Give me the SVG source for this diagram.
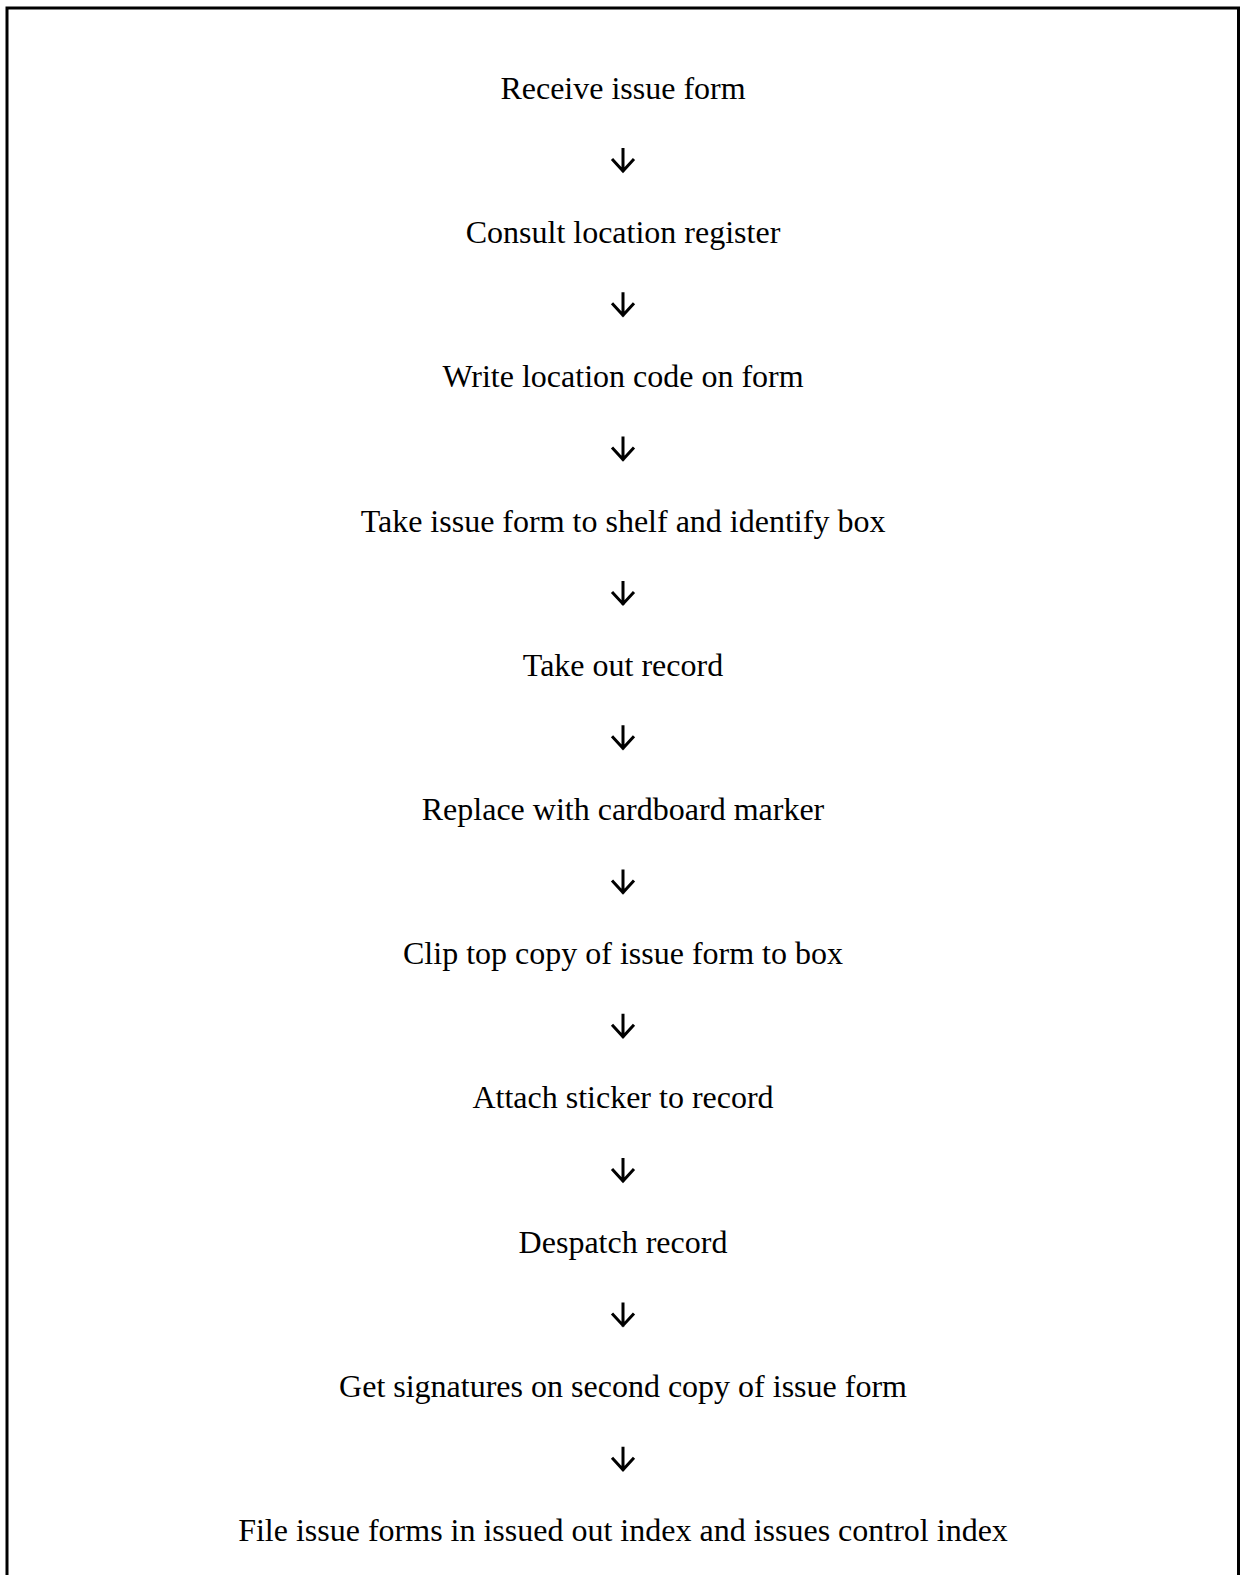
<svg xmlns="http://www.w3.org/2000/svg" width="1242" height="1575" viewBox="0 0 1242 1575">
<defs>
<style>
.t{font-family:"Liberation Serif","Times New Roman",serif;font-size:32px;fill:#000;text-anchor:middle}
.a{fill:none;stroke:#000;stroke-width:3;stroke-linecap:butt;stroke-linejoin:miter}
</style>
<path id="arr" class="a" d="M0,-13 V11 M-11,-2 L0,10 L11,-2"/>
</defs>
<rect width="1242" height="1575" fill="#fff"/>
<rect x="7" y="8" width="1231.5" height="1600" fill="none" stroke="#000" stroke-width="3"/>
<g id="n1"><text class="t" x="623" y="99">Receive issue form</text></g>
<g id="n2"><text class="t" x="623" y="243">Consult location register</text></g>
<g id="n3"><text class="t" x="623" y="387">Write location code on form</text></g>
<g id="n4"><text class="t" x="623" y="532">Take issue form to shelf and identify box</text></g>
<g id="n5"><text class="t" x="623" y="676">Take out record</text></g>
<g id="n6"><text class="t" x="623" y="820">Replace with cardboard marker</text></g>
<g id="n7"><text class="t" x="623" y="964">Clip top copy of issue form to box</text></g>
<g id="n8"><text class="t" x="623" y="1108">Attach sticker to record</text></g>
<g id="n9"><text class="t" x="623" y="1253">Despatch record</text></g>
<g id="n10"><text class="t" x="623" y="1397">Get signatures on second copy of issue form</text></g>
<g id="n11"><text class="t" x="623" y="1541">File issue forms in issued out index and issues control index</text></g>
<g id="connectors">
<use href="#arr" x="623" y="161"/>
<use href="#arr" x="623" y="305.3"/>
<use href="#arr" x="623" y="449.6"/>
<use href="#arr" x="623" y="593.9"/>
<use href="#arr" x="623" y="738.2"/>
<use href="#arr" x="623" y="882.5"/>
<use href="#arr" x="623" y="1026.8"/>
<use href="#arr" x="623" y="1171.1"/>
<use href="#arr" x="623" y="1315.4"/>
<use href="#arr" x="623" y="1459.7"/>
</g>
</svg>
